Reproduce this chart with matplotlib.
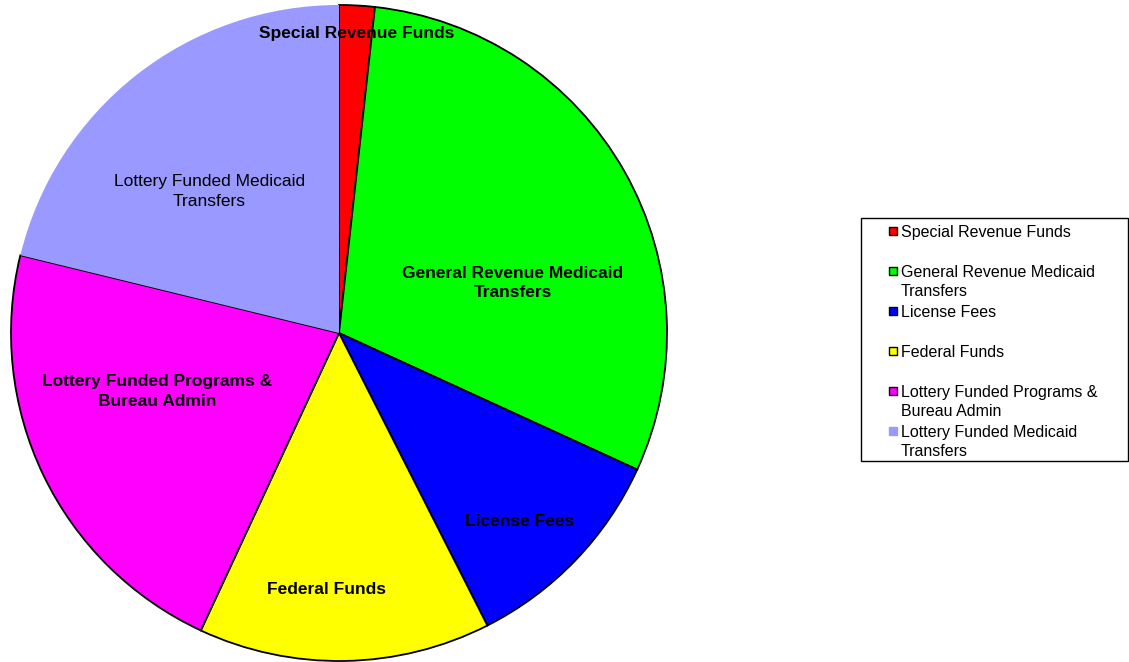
import numpy as np
import matplotlib.pyplot as plt
from matplotlib.patches import Rectangle

plt.rcParams['font.family'] = ['Liberation Sans', 'DejaVu Sans']

# shares of the pie (percent)
labels = ['Special Revenue Funds', 'General Revenue Medicaid Transfers', 'License Fees',
          'Federal Funds', 'Lottery Funded Programs & Bureau Admin', 'Lottery Funded Medicaid Transfers']
values = [1.75, 30.1, 10.7, 14.4, 21.9, 21.2]
colors = ['#FF0000', '#00FF00', '#0000FF', '#FFFF00', '#FF00FF', '#9999FF']

# text inside the pie, wrapped the same way as the original
pie_text = ['Special Revenue Funds', 'General Revenue Medicaid\nTransfers', 'License Fees',
            'Federal Funds', 'Lottery Funded Programs &\nBureau Admin', 'Lottery Funded Medicaid\nTransfers']
pie_bold = [True, True, True, True, True, False]
legend_text = ['Special Revenue Funds', 'General Revenue Medicaid\nTransfers', 'License Fees',
               'Federal Funds', 'Lottery Funded Programs &\nBureau Admin', 'Lottery Funded Medicaid\nTransfers']

W, H = 1129, 662
fig = plt.figure(figsize=(W / 100, H / 100), dpi=100)
ax = fig.add_axes([11 / W, 1 / H, 656 / W, 656 / H])

wedges, _ = ax.pie(values, colors=colors, startangle=90, counterclock=False, radius=1,
                   wedgeprops=dict(edgecolor='black', linewidth=1.3))
wedges[-1].set_edgecolor(colors[-1])
wedges[-1].set_linewidth(0)
ax.set_xlim(-1, 1)
ax.set_ylim(-1, 1)
ax.set_aspect('equal')
ax.axis('off')

# label positions (fraction of radius, relative to the centre)
lab_x = [0.055, 0.53, 0.552, -0.037, -0.555, -0.396]
lab_y = [0.912, 0.152, -0.575, -0.782, -0.178, 0.432]
for t, x, y, b in zip(pie_text, lab_x, lab_y, pie_bold):
    ax.text(x, y, t, ha='center', va='center', multialignment='center', fontsize=12.5,
            fontweight='bold' if b else 'normal', linespacing=1.38)

# legend box drawn in figure pixels
def fx(x):
    return x / W

def fy(y):
    return 1 - y / H

fig.patches.append(Rectangle((fx(861), fy(461)), (1128 - 861) / W, (461 - 218) / H,
                             transform=fig.transFigure, facecolor='white', edgecolor='black',
                             linewidth=1))
for i, (t, c) in enumerate(zip(legend_text, colors)):
    yc = 231 + 40 * i
    ec = 'black' if i < len(colors) - 1 else c
    fig.patches.append(Rectangle((fx(889), fy(yc + 4)), 8 / W, 8 / H, transform=fig.transFigure,
                                 facecolor=c, edgecolor=ec, linewidth=1))
    fig.text(fx(901), fy(yc - 6), t, ha='left', va='top', fontsize=11.5, linespacing=1.34)

fig.savefig('out.png', dpi=100)
